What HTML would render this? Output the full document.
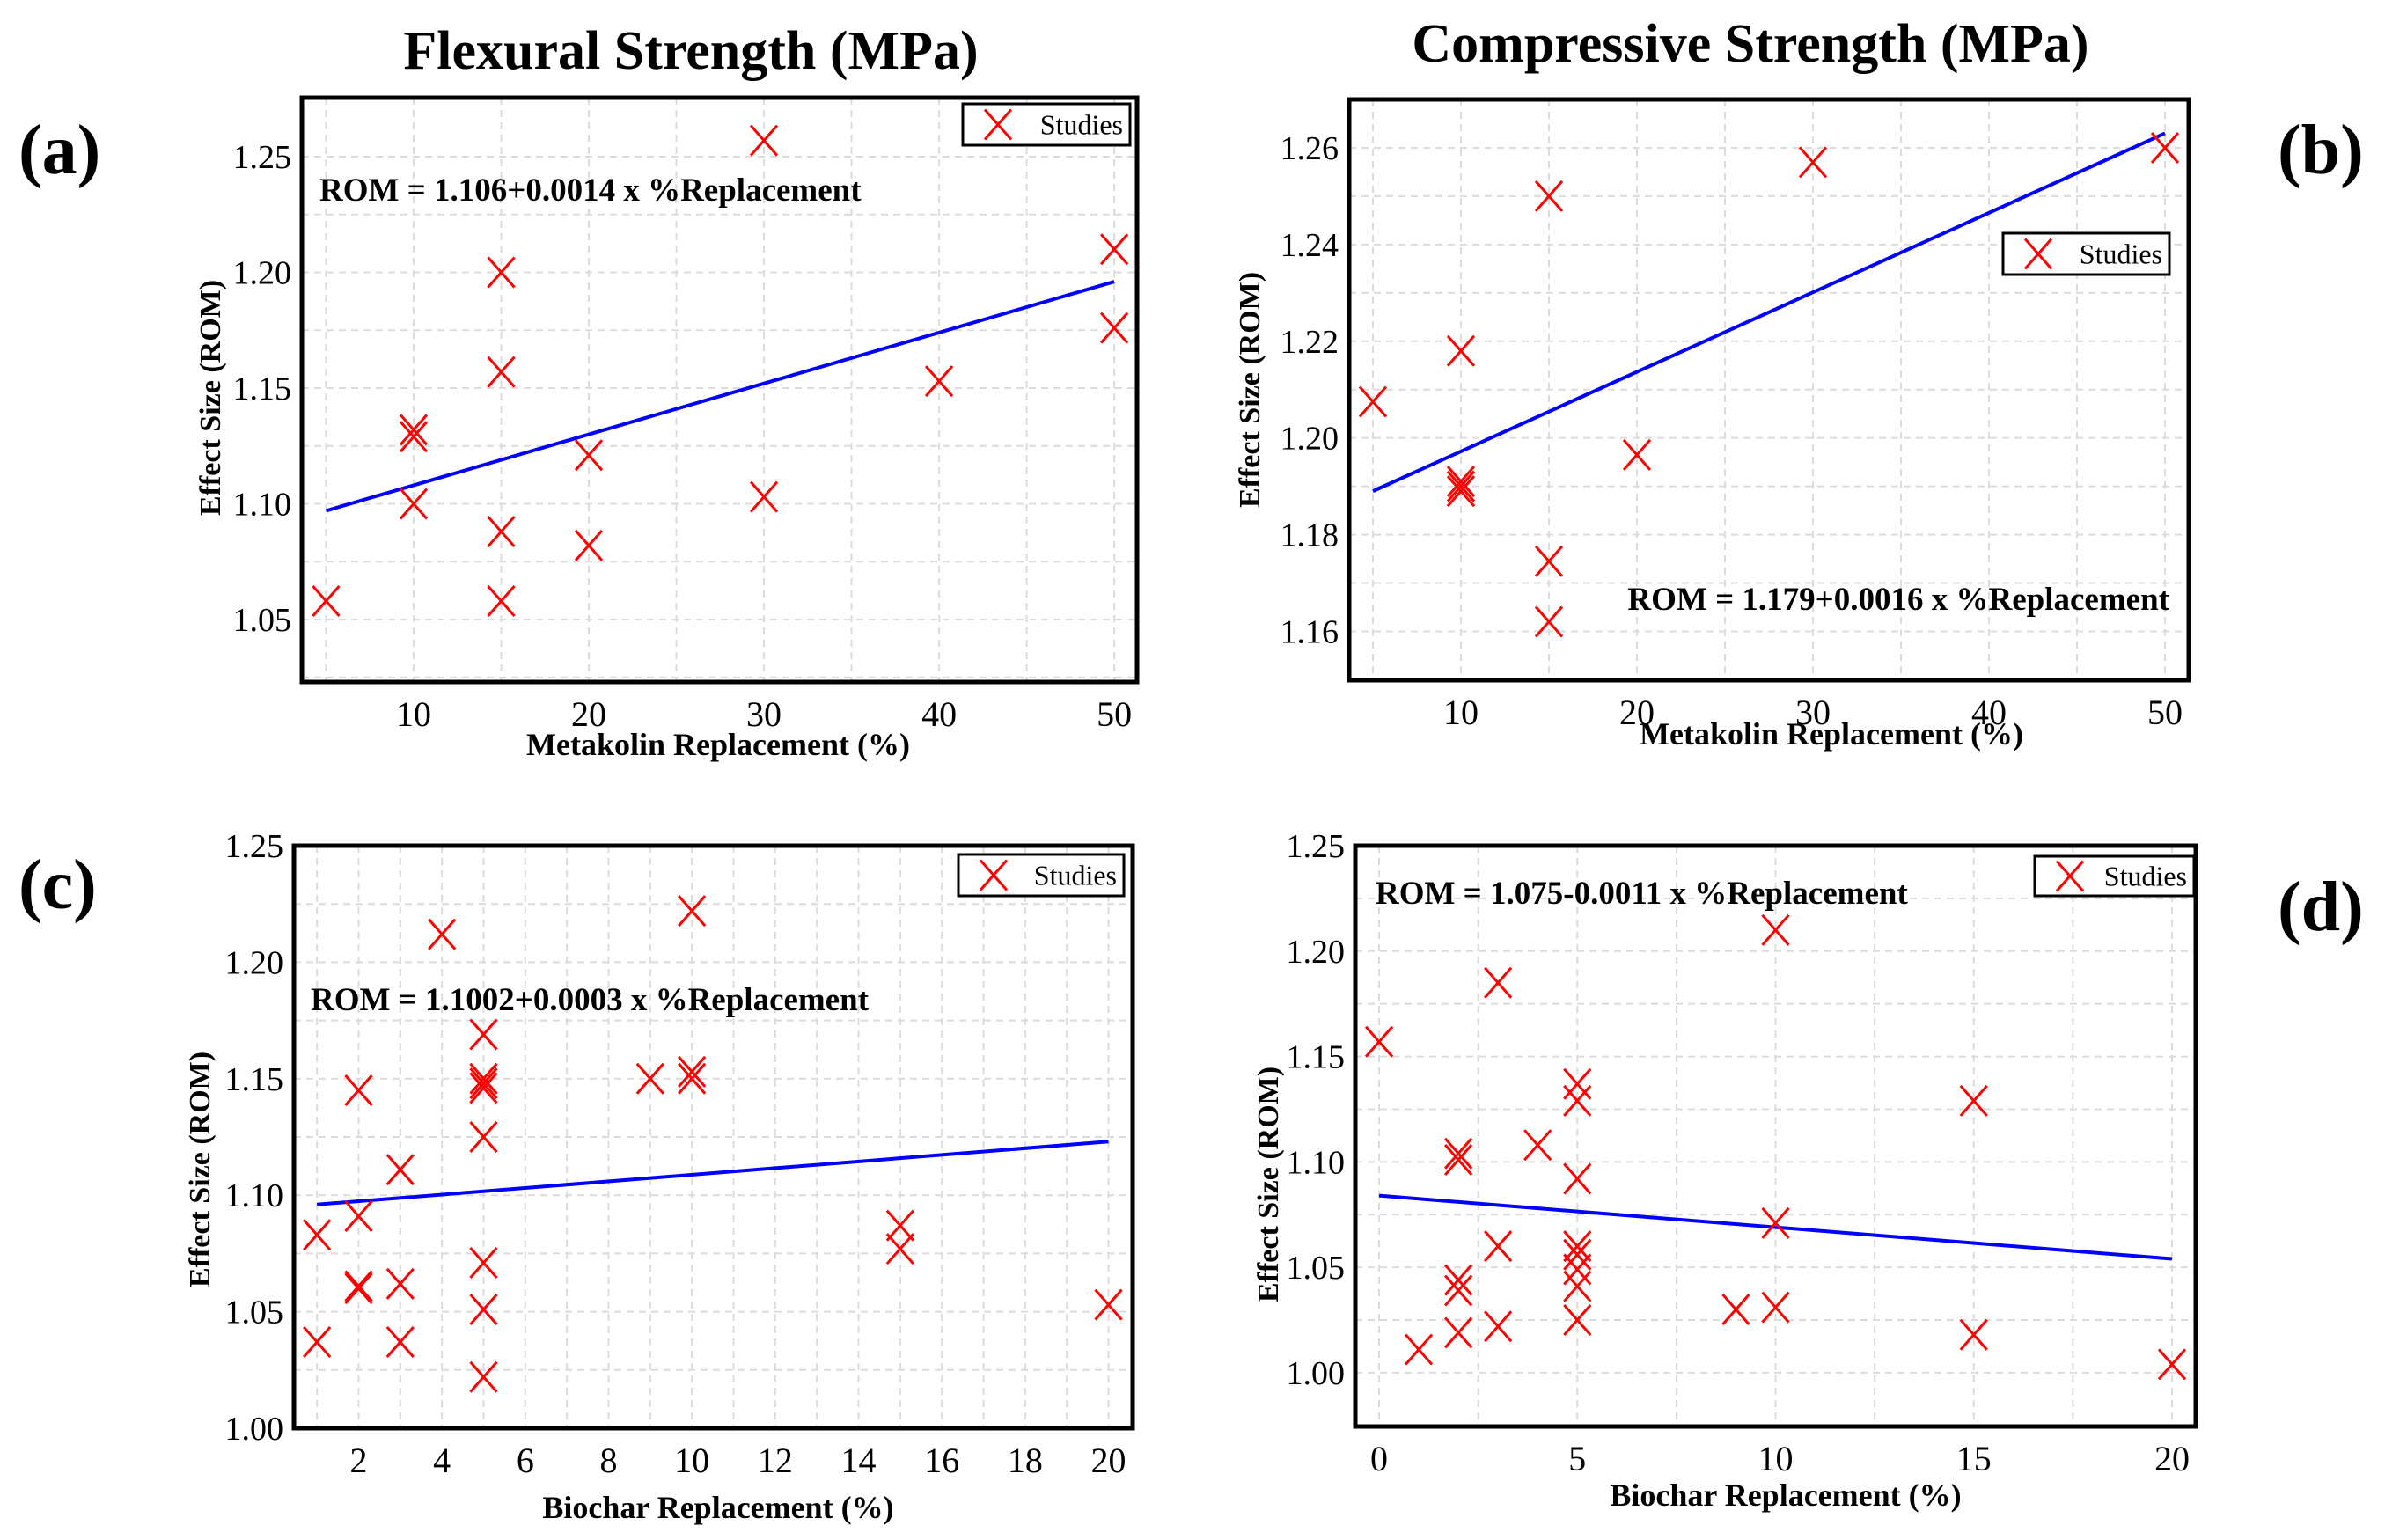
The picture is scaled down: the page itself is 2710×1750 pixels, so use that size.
<!DOCTYPE html>
<html><head><meta charset="utf-8"><style>
html,body{margin:0;padding:0;background:#fff;}
svg{display:block;}
text{font-family:"Liberation Serif",serif;}
</style></head><body>
<svg id="fig" width="2710" height="1750" viewBox="0 0 2710 1750" xmlns="http://www.w3.org/2000/svg">
<text x="785" y="78" text-anchor="middle" font-size="62" font-weight="bold">Flexural Strength (MPa)</text>
<text x="1989" y="70" text-anchor="middle" font-size="62" font-weight="bold">Compressive Strength (MPa)</text>
<text x="21" y="197" font-size="80" font-weight="bold">(a)</text>
<text x="2588" y="197" font-size="80" font-weight="bold">(b)</text>
<text x="21" y="1032" font-size="80" font-weight="bold">(c)</text>
<text x="2588" y="1057" font-size="80" font-weight="bold">(d)</text>
</svg>
<script>
// Panel (a)
const aX=[5,10,10,10,15,15,15,15,20,20,30,30,40,50,50];
const aY=[1.058,1.132,1.129,1.100,1.200,1.157,1.088,1.058,1.121,1.082,1.257,1.103,1.153,1.210,1.176];
const aLineX=[5,50];
const aLineY=[1.097,1.196];
const aXTicks=[10,20,30,40,50];
const aYTicks=[1.05,1.10,1.15,1.20,1.25];
const aYTickLabels=["1.05","1.10","1.15","1.20","1.25"];
// Panel (b)
const bX=[5,10,10,10,10,15,15,15,20,30,50];
const bY=[1.2075,1.218,1.191,1.190,1.189,1.250,1.1745,1.162,1.1965,1.257,1.260];
const bLineX=[5,50];
const bLineY=[1.189,1.263];
const bXTicks=[10,20,30,40,50];
const bYTicks=[1.16,1.18,1.20,1.22,1.24,1.26];
const bYTickLabels=["1.16","1.18","1.20","1.22","1.24","1.26"];
// Panel (c)
const cX=[1,1,2,2,2,2,3,3,3,4,5,5,5,5,5,5,5,5,9,10,10,10,15,15,20];
const cY=[1.083,1.037,1.145,1.091,1.061,1.060,1.111,1.062,1.037,1.212,1.169,1.150,1.148,1.146,1.125,1.071,1.051,1.022,1.150,1.222,1.153,1.150,1.087,1.077,1.053];
const cLineX=[1,20];
const cLineY=[1.096,1.123];
const cXTicks=[2,4,6,8,10,12,14,16,18,20];
const cYTicks=[1.00,1.05,1.10,1.15,1.20,1.25];
const cYTickLabels=["1.00","1.05","1.10","1.15","1.20","1.25"];
// Panel (d)
const dX=[0,1,2,2,2,2,2,3,3,3,4,5,5,5,5,5,5,5,5,9,10,10,10,15,15,20];
const dY=[1.157,1.011,1.104,1.101,1.044,1.039,1.019,1.185,1.060,1.022,1.108,1.137,1.129,1.092,1.060,1.056,1.049,1.041,1.025,1.030,1.210,1.071,1.031,1.129,1.018,1.004];
const dLineX=[0,20];
const dLineY=[1.084,1.054];
const dXTicks=[0,5,10,15,20];
const dYTicks=[1.00,1.05,1.10,1.15,1.20,1.25];
const dYTickLabels=["1.00","1.05","1.10","1.15","1.20","1.25"];

const NS="http://www.w3.org/2000/svg";
const svg=document.getElementById('fig');
function mk(tag,attrs,parent){const e=document.createElementNS(NS,tag);for(const k in attrs)e.setAttribute(k,attrs[k]);(parent||svg).appendChild(e);return e;}

function panel(p){
  const g=mk('g',{});
  
  
  const sx=v=>p.L+(v-p.x0)/(p.x1-p.x0)*(p.R-p.L);
  const sy=v=>p.B-(v-p.y0)/(p.y1-p.y0)*(p.B-p.T);
  for(let v=p.gx0;v<=p.x1+1e-9;v+=p.gxs){
    const l=mk('line',{x1:sx(v),x2:sx(v),y1:p.T,y2:p.B,stroke:'#dcdcdc','stroke-width':2,'stroke-dasharray':'8,6'},g);
    
    
  }
  for(let v=p.gy0;v<=p.y1+1e-9;v+=p.gys){
    const l=mk('line',{x1:p.L,x2:p.R,y1:sy(v),y2:sy(v),stroke:'#dcdcdc','stroke-width':2,'stroke-dasharray':'8,6'},g);
    
    
  }
  p.xt.forEach(v=>{
    const t=mk('text',{x:sx(v),y:p.B+50,'text-anchor':'middle','font-size':40},g);
    t.textContent=String(v);
    
    
  });
  p.yt.forEach((v,i)=>{
    const t=mk('text',{x:p.L-12,y:sy(v)+13,'text-anchor':'end','font-size':38},g);
    t.textContent=p.ytl[i];
    
    
  });
  const rl=mk('line',{x1:sx(p.lx[0]),y1:sy(p.ly[0]),x2:sx(p.lx[1]),y2:sy(p.ly[1]),stroke:'#0000ff','stroke-width':4},g);
  
  
  p.xs.forEach((x,i)=>{
    const cx=sx(x),cy=sy(p.ys[i]),h=15,v=17;
    const m=mk('path',{d:`M${cx-h},${cy-v}L${cx+h},${cy+v}M${cx-h},${cy+v}L${cx+h},${cy-v}`,stroke:'#ff0000','stroke-width':3,fill:'none'},g);
    
    
  });
  const f=mk('rect',{x:p.L,y:p.T,width:p.R-p.L,height:p.B-p.T,fill:'none',stroke:'#000','stroke-width':5},g);
  
  
  const lg=mk('g',{},g);
  
  
  mk('rect',{x:p.lg[0],y:p.lg[1],width:p.lg[2],height:p.lg[3],fill:'#fff',stroke:'#000','stroke-width':3},lg);
  const mx=p.lg[0]+40,my=p.lg[1]+p.lg[3]/2;
  const le=mk('path',{d:`M${mx-15},${my-17}L${mx+15},${my+17}M${mx-15},${my+17}L${mx+15},${my-17}`,stroke:'#ff0000','stroke-width':3},lg);
  
  
  const lt=mk('text',{x:p.lg[0]+p.lg[2]-8,y:my+11,'text-anchor':'end','font-size':32},lg);
  lt.textContent='Studies';
  
  
  const eq=mk('text',{x:p.eq[0],y:p.eq[1],'text-anchor':p.eq[2],'font-size':37,'font-weight':'bold'},g);
  eq.textContent=p.eqt;
  
  
  const xt=mk('text',{x:p.xtp[0],y:p.xtp[1],'text-anchor':'middle','font-size':36,'font-weight':'bold'},g);
  xt.textContent=p.xtitle;
  
  
  const yt=mk('text',{x:0,y:0,'text-anchor':'middle','font-size':34,'font-weight':'bold',transform:`translate(${p.ytp[0]},${p.ytp[1]}) rotate(-90)`},g);
  yt.textContent='Effect Size (ROM)';
  
  
}

panel({id:'a',L:343,R:1292,T:111,B:775,x0:3.62,x1:51.3,y0:1.023,y1:1.2755,gx0:5,gxs:5,gy0:1.025,gys:0.025,
  xs:aX,ys:aY,lx:aLineX,ly:aLineY,xt:aXTicks,yt:aYTicks,ytl:aYTickLabels,lg:[1094,118,190,47],
  eq:[363,228,'start'],eqt:'ROM = 1.106+0.0014 x %Replacement',xtp:[816,858],xtitle:'Metakolin Replacement (%)',ytp:[250,452]});
panel({id:'b',L:1533,R:2487,T:113,B:773,x0:3.65,x1:51.35,y0:1.1499,y1:1.270,gx0:5,gxs:5,gy0:1.15,gys:0.01,
  xs:bX,ys:bY,lx:bLineX,ly:bLineY,xt:bXTicks,yt:bYTicks,ytl:bYTickLabels,lg:[2276,265,189,47],
  eq:[2465,693,'end'],eqt:'ROM = 1.179+0.0016 x %Replacement',xtp:[2081,846],xtitle:'Metakolin Replacement (%)',ytp:[1431,443]});
panel({id:'c',L:334,R:1287,T:961,B:1623,x0:0.448,x1:20.58,y0:1.00,y1:1.25,gx0:1,gxs:1,gy0:1.00,gys:0.025,
  xs:cX,ys:cY,lx:cLineX,ly:cLineY,xt:cXTicks,yt:cYTicks,ytl:cYTickLabels,lg:[1089,971,188,47],
  eq:[353,1148,'start'],eqt:'ROM = 1.1002+0.0003 x %Replacement',xtp:[816,1725],xtitle:'Biochar Replacement (%)',ytp:[238,1329]});
panel({id:'d',L:1540,R:2495,T:961,B:1621,x0:-0.6,x1:20.6,y0:0.9745,y1:1.25,gx0:0,gxs:2.5,gy0:1.00,gys:0.025,
  xs:dX,ys:dY,lx:dLineX,ly:dLineY,xt:dXTicks,yt:dYTicks,ytl:dYTickLabels,lg:[2312,973,181,45],
  eq:[1563,1027,'start'],eqt:'ROM = 1.075-0.0011 x %Replacement',xtp:[2029,1711],xtitle:'Biochar Replacement (%)',ytp:[1452,1346]});
</script>
</body></html>
